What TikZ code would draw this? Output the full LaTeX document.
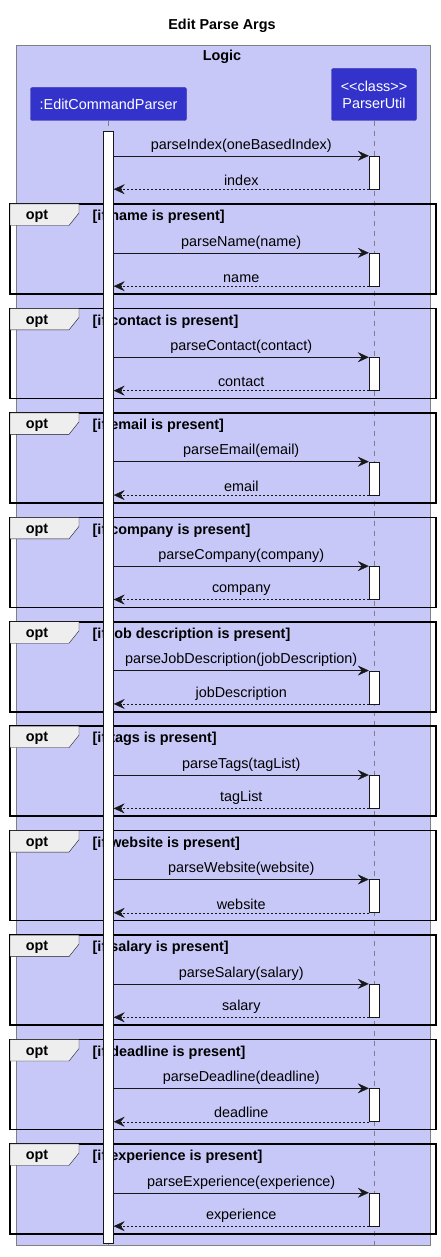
\documentclass[tikz,border=0pt]{standalone}
\usepackage{fontspec}
\setmainfont{Liberation Sans}
\usetikzlibrary{calc}
\usetikzlibrary{arrows.meta}

\definecolor{logicbg}{RGB}{200,200,248}
\definecolor{partbg}{RGB}{51,51,204}
\definecolor{partline}{RGB}{40,40,150}
\definecolor{tabbg}{RGB}{238,238,238}
\definecolor{msgline}{RGB}{24,24,24}

\tikzset{
  txt/.style={font=\fontsize{14.4}{17}\selectfont, inner sep=0pt},
  boldtxt/.style={font=\bfseries\fontsize{14.4}{17}\selectfont, inner sep=0pt},
  participant/.style={txt, draw=partline, fill=partbg, text=white, rounded corners=2pt, align=center},
  actbar/.style={draw=msgline, fill=white, minimum width=10pt, inner sep=0pt},
  lifeline/.style={draw=gray, dash pattern=on 5pt off 5pt},
  msg/.style={draw=msgline, -{Stealth[length=11pt,width=10pt,inset=4pt]}},
  ret/.style={msg, dash pattern=on 2pt off 2pt},
}

\begin{document}
\begin{tikzpicture}[x=1pt,y=-1pt]
  % Constants
  \pgfmathsetmacro\ex{108.5}
  \pgfmathsetmacro\px{374}
  \pgfmathsetmacro\gap{104.44}
  \pgfmathsetmacro\first{204}
  % Boundary
  \useasboundingbox (0,0) rectangle (441,1257);
  % Title and box
  \node[boldtxt] (title) at (222,26) {Edit Parse Args};
  \draw[fill=logicbg, draw=gray] (16.5,45.5) rectangle (430,1245);
  \node[boldtxt] (logic) at (222,57) {Logic};
  % Participants
  \node[participant, minimum width=156pt, minimum height=33pt] (ecp) at (\ex,104) {:EditCommandParser};
  \node[participant, minimum width=85pt, minimum height=52pt] (pu) at (\px,94.5) {\mbox{<}\mbox{<}class\mbox{>}\mbox{>}\\ParserUtil};
  % Lifelines
  \coordinate (ecpend) at (\ex,1250);
  \coordinate (puend) at (\px,1250);
  \draw[lifeline] (ecp) -- (ecpend);
  \draw[lifeline] (pu) -- (puend);
  % Opt frames
  \foreach \cond [count=\i] in {name, contact, email, company, job description, tags, website, salary, deadline, experience} {
    \pgfmathsetmacro\t{\first+\gap*(\i-1)}
    \draw[line width=1.5pt] (10,\t) rectangle (436,\t+90);
    \draw[fill=tabbg, draw=msgline] (10,\t) -- (79,\t) -- (79,\t+9) -- (69,\t+21.5) -- (10,\t+21.5) -- cycle;
    \node[boldtxt] (opt\i) at (37,\t+12.5) {opt};
    \node[boldtxt, anchor=west] (cond\i) at (92.5,\t+13) {[if \cond\ is present]};
  }
  % Activation of the parser
  \node[actbar, minimum height=1112pt] (ecpbar) at (\ex,687) {};
  % parseIndex
  \node[actbar, minimum height=33pt] (act0) at (\px,172.5) {};
  \draw[msg] (ecpbar.east |- act0.north) -- (act0.north west) node[txt, midway, above=3.5pt] {parseIndex(oneBasedIndex)};
  \draw[ret] (act0.south west) -- (ecpbar.east |- act0.south) node[txt, midway, above=3.5pt] {index};
  % Messages
  \foreach \call/\back [count=\i] in {parseName(name)/name, parseContact(contact)/contact, parseEmail(email)/email, parseCompany(company)/company, parseJobDescription(jobDescription)/jobDescription, parseTags(tagList)/tagList, parseWebsite(website)/website, parseSalary(salary)/salary, parseDeadline(deadline)/deadline, parseExperience(experience)/experience} {
    \pgfmathsetmacro\t{\first+\gap*(\i-1)}
    \node[actbar, minimum height=33pt] (act\i) at (\px,\t+65.5) {};
    \draw[msg] (ecpbar.east |- act\i.north) -- (act\i.north west) node[txt, midway, above=3.5pt] {\call};
    \draw[ret] (act\i.south west) -- (ecpbar.east |- act\i.south) node[txt, midway, above=3.5pt] {\back};
  }
\end{tikzpicture}
\end{document}
